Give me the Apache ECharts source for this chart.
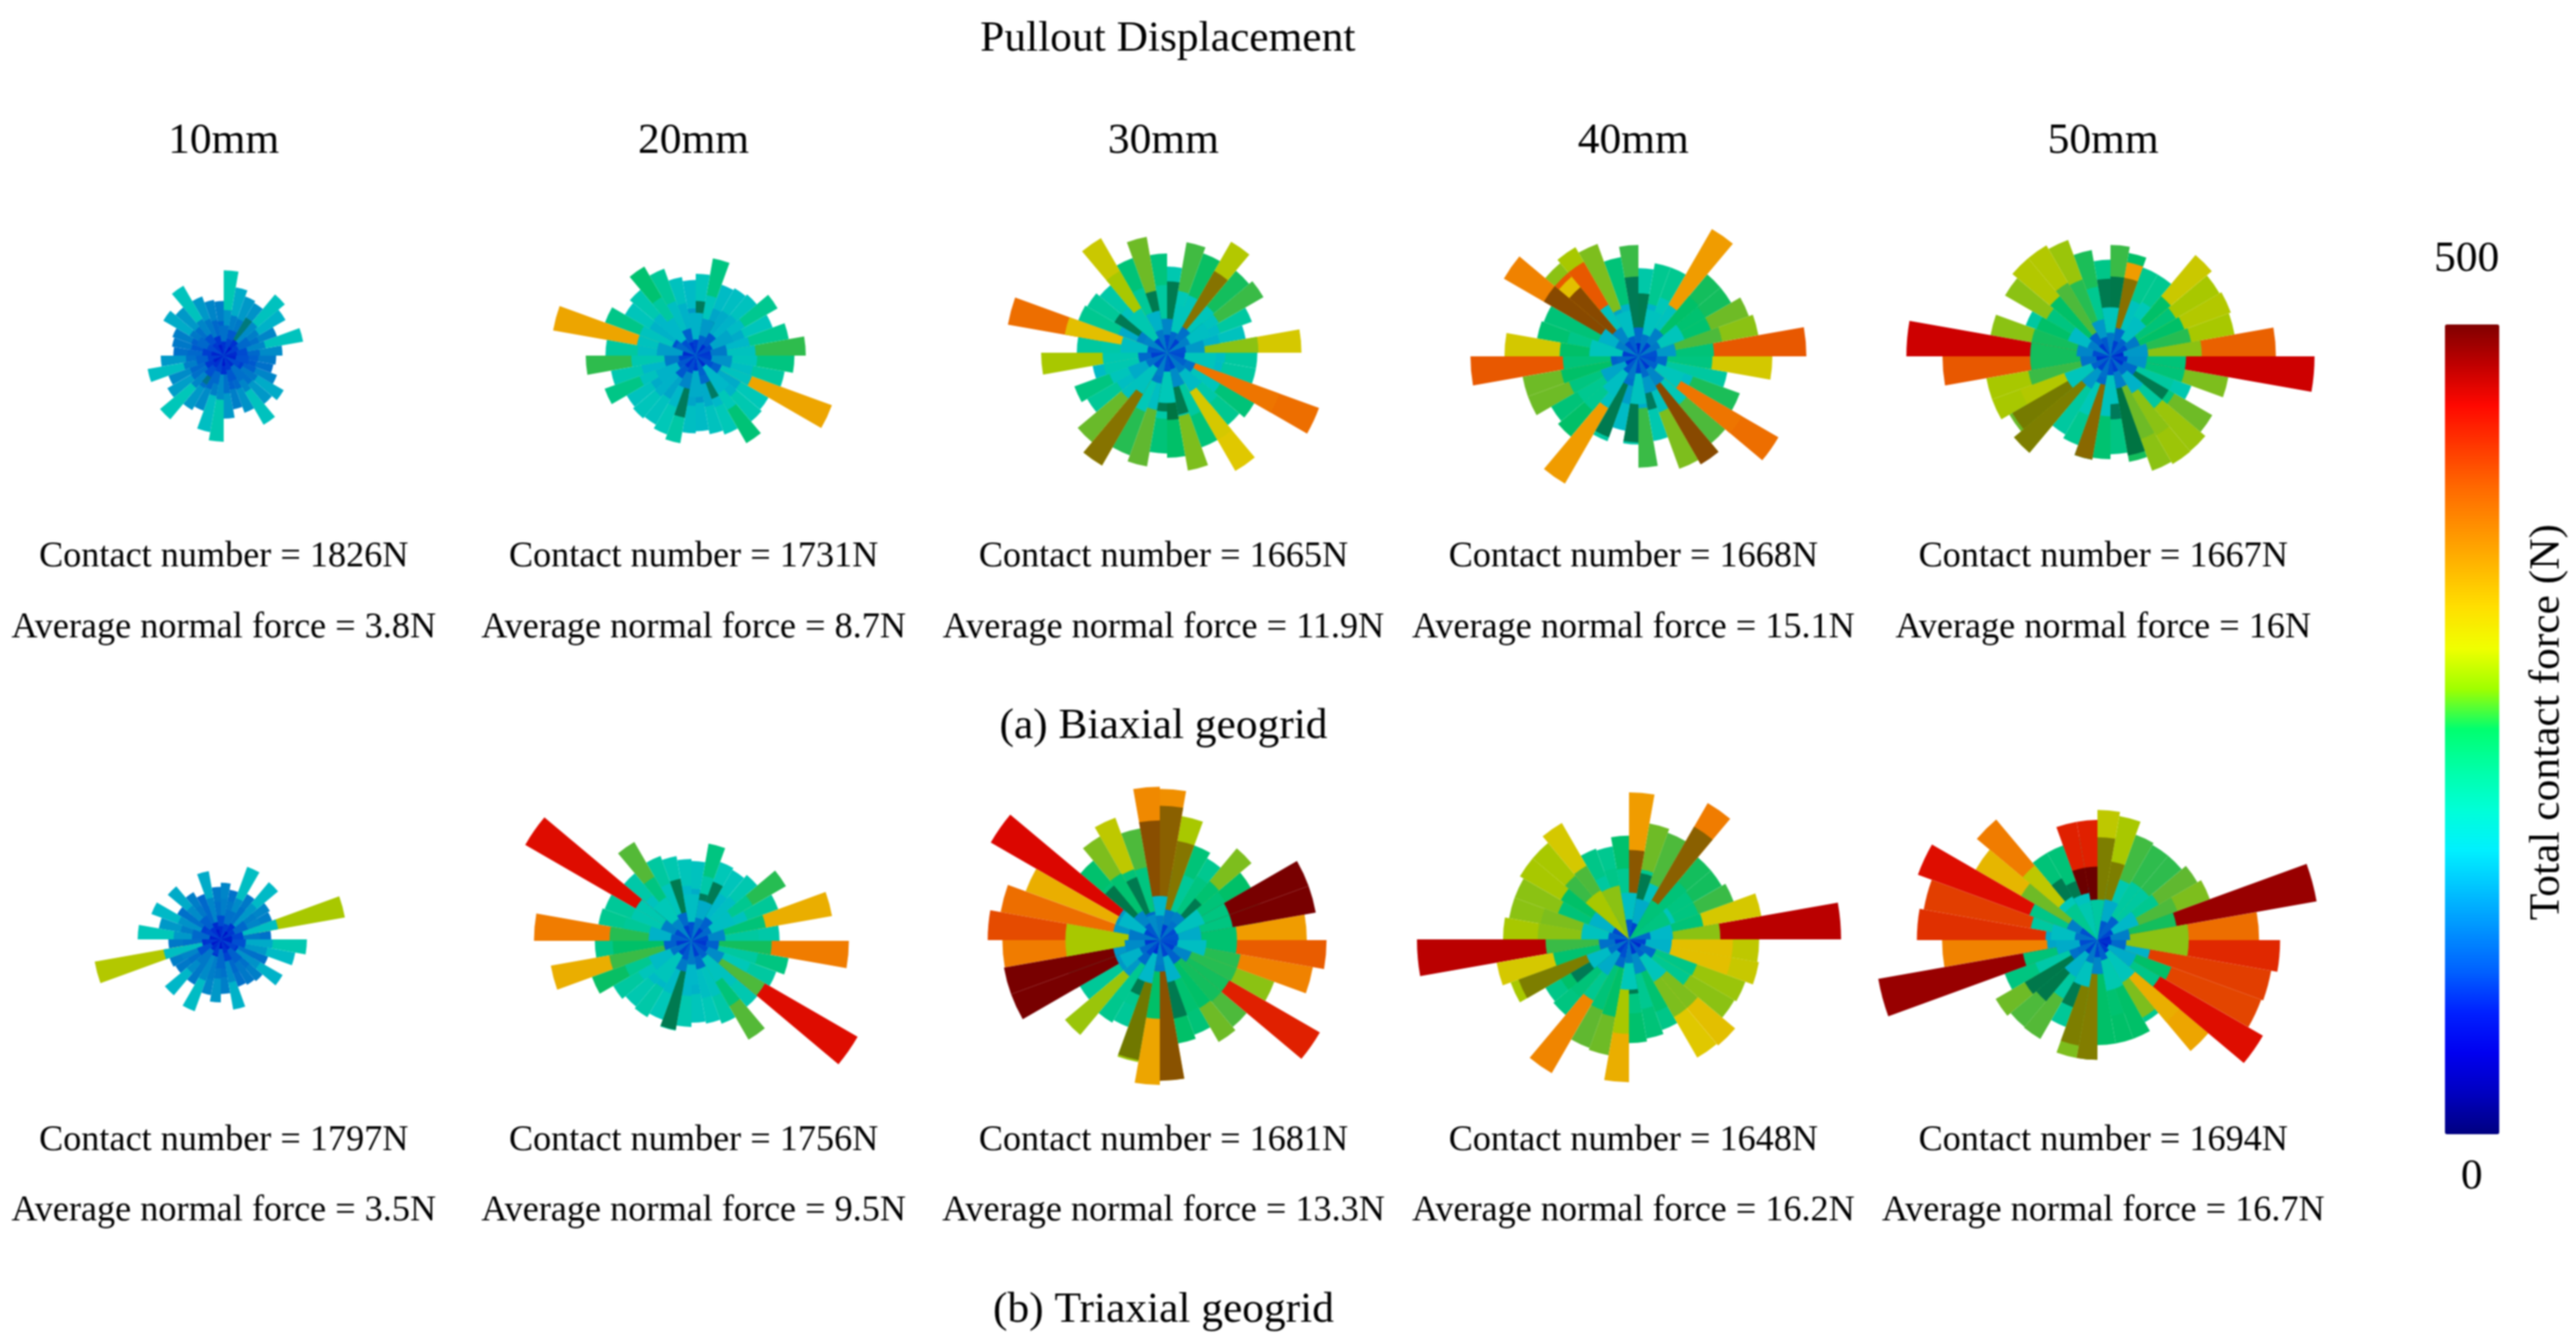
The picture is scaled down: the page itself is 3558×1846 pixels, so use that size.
<!DOCTYPE html>
<html>
<head>
<meta charset="utf-8">
<title>Pullout Displacement</title>
<script src="https://cdn.jsdelivr.net/npm/echarts@6/dist/echarts.min.js"></script>
<style>
  html, body { margin: 0; background: #fff; }
  #chart { width: 3558px; height: 1846px; filter: blur(1px); }
</style>
</head>
<body>
<div id="chart"></div>
<script>
// column and row labels
const displacements = ['10mm', '20mm', '30mm', '40mm', '50mm']
const contactA = [1826, 1731, 1665, 1668, 1667]
const forceA = ['3.8', '8.7', '11.9', '15.1', '16']
const contactB = [1797, 1756, 1681, 1648, 1694]
const forceB = ['3.5', '9.5', '13.3', '16.2', '16.7']

// total contact force (N) per direction.
// *Out and *Mid have 36 bins of 10 deg, *Ring and *Core have 18 bins of 20 deg, counted ccw from +x.
const a1Out = [140,192,135,170,190,145,150,165,203,130,135,150,192,150,166,130,125,120,150,184,140,155,198,150,140,185,205,150,130,145,190,150,165,135,120,125]
const a1Mid = [115,135,120,130,140,120,125,130,145,110,115,125,135,120,125,110,105,115,120,130,115,120,135,120,115,130,140,120,110,115,135,120,125,110,105,110]
const a1Ring = [95,115,75,105,120,80,100,115,85,110,80,100,115,75,105,120,85,100]
const a1Core = [70,85,55,90,75,60,80,95,65,85,60,75,90,55,80,70,95,65]

const a2Out = [262,225,195,225,190,185,180,235,195,180,190,220,245,205,195,230,345,215,262,205,231,190,195,190,200,212,185,180,190,200,241,205,200,345,215,235]
const a2Mid = [190,175,165,180,170,165,160,195,165,150,170,185,215,175,170,190,190,185,205,175,190,165,170,160,175,180,160,150,165,175,200,170,165,190,185,195]
const a2Ring = [125,160,105,150,170,110,175,100,155,125,170,105,135,165,115,175,110,145]
const a2Core = [80,95,70,110,85,75,100,115,70,90,105,75,95,80,110,70,100,85]

const a3Out = [320,190,215,265,255,305,252,267,205,236,280,240,315,210,220,225,385,215,300,180,235,220,278,310,260,275,240,250,285,240,325,225,240,385,215,215]
const a3Mid = [290,170,180,190,195,170,195,200,190,215,175,220,300,190,190,165,330,210,205,205,195,185,190,195,200,185,210,195,205,215,320,210,195,380,180,185]
const a3Ring = [150,185,120,195,135,170,205,130,185,115,165,190,125,200,140,180,120,195]
const a3Core = [100,130,85,115,95,125,90,135,105,85,120,95,130,100,90,125,110,95]

const a4Out = [400,290,280,255,255,350,225,225,210,265,240,285,300,290,370,240,245,319,400,280,280,240,250,350,215,180,210,265,205,285,295,270,385,257,215,319]
const a4Mid = [240,270,245,245,250,190,200,170,180,165,170,160,190,330,200,240,230,250,240,250,235,225,225,190,195,155,165,165,170,190,190,200,380,185,215,235]
const a4Ring = [150,195,130,190,115,185,135,170,195,110,160,185,120,190,150,135,195,115]
const a4Core = [100,125,85,120,70,110,95,130,85,115,75,105,125,90,115,80,110,95]

const a5Out = [394,300,305,300,315,225,225,250,265,230,257,295,305,305,290,215,290,486,400,300,300,278,300,215,225,250,245,233,255,290,296,295,280,205,285,486]
const a5Mid = [290,260,250,240,250,200,190,200,225,190,225,260,270,250,235,250,255,255,255,265,305,310,200,215,200,195,190,190,205,280,290,215,235,215,240,240]
const a5Ring = [150,125,185,115,195,150,110,180,135,120,195,150,115,190,130,170,115,145]
const a5Core = [70,95,110,85,125,105,80,130,95,75,110,90,120,100,85,115,75,90]

const b1Out = [120,300,130,135,178,125,184,120,135,125,165,115,130,165,120,176,150,198,125,305,130,125,174,125,182,135,150,130,170,120,125,130,170,120,180,205]
const b1Mid = [125,185,135,130,150,120,140,125,130,120,135,115,125,140,120,145,130,150,120,185,135,120,140,125,140,130,125,120,140,115,125,120,145,120,150,165]
const b1Ring = [90,115,75,120,95,70,110,85,115,75,100,125,70,115,90,110,75,100]
const b1Core = [60,80,50,85,70,55,75,90,60,80,55,70,85,50,75,65,90,60]

const b2Out = [210,340,220,260,205,195,200,235,190,195,205,215,272,210,457,220,225,375,230,340,252,215,205,210,200,217,205,195,200,210,272,205,457,215,235,375]
const b2Mid = [215,240,190,225,185,175,180,210,165,175,180,195,235,190,205,205,220,260,250,265,225,195,180,175,180,195,175,170,185,190,240,190,270,200,215,255]
const b2Ring = [135,185,110,165,185,115,200,130,170,110,180,195,125,175,115,190,140,110]
const b2Core = [90,115,80,125,100,85,135,95,110,80,120,90,105,125,85,110,95,80]

const b3Out = [350,250,255,250,285,225,240,300,360,365,270,310,285,247,465,340,385,410,375,230,230,220,295,227,220,295,345,335,250,240,280,270,440,290,370,397]
const b3Mid = [245,235,235,240,245,235,220,220,230,225,235,240,245,240,150,150,150,300,300,150,150,150,150,225,225,240,250,195,250,245,250,255,255,260,260,245]
const b3Ring = [165,190,130,125,175,115,135,175,125,140,170,115,175,125,170,110,135,185]
const b3Core = [100,95,120,85,130,140,105,90,125,80,115,95,75,130,90,110,85,95]

const b4Out = [505,320,265,255,255,375,270,280,350,247,225,230,320,300,300,290,290,300,505,320,300,230,235,368,275,280,340,247,240,230,325,330,290,295,314,310]
const b4Mid = [290,240,235,235,240,215,190,225,180,225,230,215,270,265,250,240,285,290,265,245,255,250,240,225,240,250,300,235,225,245,285,285,225,230,330,330]
const b4Ring = [175,195,125,165,185,115,135,170,190,120,180,165,115,200,140,195,115,170]
const b4Core = [115,235,240,90,105,290,300,95,110,75,120,85,100,125,80,110,70,90]

const b5Out = [385,530,285,275,262,262,267,300,310,250,245,240,240,375,335,455,420,430,370,530,235,280,270,272,220,285,285,250,250,250,226,345,455,415,420,435]
const b5Mid = [290,255,270,225,215,215,205,190,180,170,175,200,190,310,280,230,215,165,160,240,210,235,235,215,205,290,245,250,245,250,285,340,230,250,170,290]
const b5Ring = [130,175,110,165,125,190,200,130,185,165,120,170,190,135,205,195,165,115]
const b5Core = [70,90,110,105,215,205,225,100,120,95,115,85,125,90,110,80,65,75]

// steep, tall bars that project short: [bin, force]
const a4High = [[12, 400], [13, 400]]
const a5High = [[7, 350]]
const b3High = [[1, 580], [2, 580], [19, 580], [20, 580]]
const b5High = [[9, 440], [10, 440]]

// shaded side faces: [bin, reach in N, force]
const a1Side = [[5, 105, 185], [23, 80, 170]]
const a2Side = [[6, 90, 210], [25, 150, 215], [8, 130, 215], [29, 110, 205]]
const a3Side = [[5, 225, 345], [23, 310, 345], [14, 145, 220], [27, 160, 240], [8, 170, 225], [28, 150, 225], [26, 140, 225], [10, 150, 225], [3, 110, 225]]
const a4Side = [[13, 215, 395], [14, 260, 395], [30, 297, 395], [8, 150, 225], [26, 205, 225], [24, 205, 225], [28, 130, 210], [9, 190, 220]]
const a5Side = [[7, 190, 350], [21, 270, 310], [22, 300, 320], [25, 250, 360], [9, 185, 225], [8, 190, 230], [28, 240, 240], [27, 150, 215], [32, 160, 225]]
const b2Side = [[6, 150, 220], [7, 115, 215], [25, 215, 225], [10, 150, 225], [13, 115, 215]]
const b3Side = [[9, 285, 390], [8, 320, 370], [7, 240, 340], [27, 335, 385], [25, 290, 300], [13, 170, 230], [28, 190, 225], [4, 130, 225], [24, 140, 225], [11, 160, 225]]
const b4Side = [[8, 213, 380], [5, 310, 370], [20, 280, 320], [7, 160, 225], [27, 130, 225], [21, 160, 220]]
const b5Side = [[9, 175, 480], [10, 175, 480], [8, 245, 320], [7, 190, 320], [26, 285, 330], [25, 255, 320], [11, 150, 225], [12, 170, 225], [22, 190, 230], [21, 200, 230], [24, 170, 225]]

// legend colours, bottom to top
const jet = ['#000080','#0000c0','#0000f0','#0020ff','#0060ff','#0090ff','#00c0ff','#00f0ff','#00ffd8','#00ffa8','#00ff70','#a0ff00','#f0ff00','#ffe000','#ffb800','#ff9000','#ff6800','#ff3800','#ff0800','#c00000','#800000']
// the bars are lit, so they come out duller than the legend
const litJet = ['#000080','#0000a8','#0010c8','#0030d0','#0050d0','#0078c8','#0098c8','#00b8c8','#00c8b8','#00c890','#00c068','#60b830','#a8c800','#e0c800','#f09c00','#f07c00','#e85800','#e03800','#e01000','#d80000','#c00000','#a00000','#780000']
const sideJet = ['#000050','#000070','#000090','#001098','#002aa0','#0040a0','#005c98','#007a88','#007a68','#007a50','#007038','#507808','#707800','#808000','#887000','#8a5c00','#884400','#802400','#780800','#700000','#580000']

const panels = [
  { c: [309, 491], out: a1Out, mid: a1Mid, ring: a1Ring, core: a1Core, high: [], side: a1Side },
  { c: [961, 491], out: a2Out, mid: a2Mid, ring: a2Ring, core: a2Core, high: [], side: a2Side },
  { c: [1612, 487], out: a3Out, mid: a3Mid, ring: a3Ring, core: a3Core, high: [], side: a3Side },
  { c: [2263, 492], out: a4Out, mid: a4Mid, ring: a4Ring, core: a4Core, high: a4High, side: a4Side },
  { c: [2915, 492], out: a5Out, mid: a5Mid, ring: a5Ring, core: a5Core, high: a5High, side: a5Side },
  { c: [305, 1297], out: b1Out, mid: b1Mid, ring: b1Ring, core: b1Core, high: [], side: [] },
  { c: [955, 1299], out: b2Out, mid: b2Mid, ring: b2Ring, core: b2Core, high: [], side: b2Side },
  { c: [1602, 1298], out: b3Out, mid: b3Mid, ring: b3Ring, core: b3Core, high: b3High, side: b3Side },
  { c: [2250, 1297], out: b4Out, mid: b4Mid, ring: b4Ring, core: b4Core, high: [], side: b4Side },
  { c: [2897, 1298], out: b5Out, mid: b5Mid, ring: b5Ring, core: b5Core, high: b5High, side: b5Side }
]

const RADIUS_PX = 348 // 600 N on the outermost ring
const range = n => Array.from({ length: n }, (_, i) => i)
const rows = list => list.map((v, i) => [i, v])

const polar = []
const angleAxis = []
const radiusAxis = []
const series = []
const litSeries = []
const sideSeries = []

const addLayer = (panel, scale, bins, data, side) => {
  const index = polar.length
  polar.push({ center: panel.c, radius: RADIUS_PX * scale })
  angleAxis.push({ polarIndex: index, type: 'category', data: range(bins), startAngle: 0, clockwise: false, show: false, boundaryGap: true })
  radiusAxis.push({ polarIndex: index, type: 'value', min: 0, max: 600, show: false })
  ;(side ? sideSeries : litSeries).push(series.length)
  series.push({
    type: 'bar',
    coordinateSystem: 'polar',
    polarIndex: index,
    barCategoryGap: '0%',
    barWidth: '100%',
    silent: true,
    encode: { angle: 0, radius: 1 },
    data: data
  })
}

panels.forEach(p => {
  addLayer(p, 1, 36, rows(p.out))
  if (p.high.length) addLayer(p, 0.65, 36, p.high)
  addLayer(p, 0.75, 36, rows(p.mid))
  if (p.side.length) addLayer(p, 1, 36, p.side, true)
  addLayer(p, 0.6, 18, rows(p.ring))
  addLayer(p, 0.45, 18, rows(p.core))
})

const SERIF = '"Liberation Serif", "Times New Roman", serif'
const label = (text, x, y, rotation) => ({
  type: 'text',
  x: x,
  y: y,
  rotation: rotation || 0,
  silent: true,
  style: {
    text: text,
    fill: '#000',
    align: 'center',
    verticalAlign: 'middle',
    font: (text.length > 16 && text.indexOf('=') > 0 ? 50 : 60) + 'px ' + SERIF
  }
})

const columnX = [309, 958, 1607, 2256, 2905]
const texts = [
  label('Pullout Displacement', 1613, 54),
  label('(a) Biaxial geogrid', 1607, 1003),
  label('(b) Triaxial geogrid', 1607, 1809),
  label('500', 3407, 358),
  label('0', 3414, 1625),
  label('Total contact force (N)', 3518, 997, Math.PI / 2)
]
columnX.forEach((x, i) => {
  texts.push(label(displacements[i], x, 195))
  texts.push(label('Contact number = ' + contactA[i] + 'N', x, 769))
  texts.push(label('Average normal force = ' + forceA[i] + 'N', x, 867))
  texts.push(label('Contact number = ' + contactB[i] + 'N', x, 1575))
  texts.push(label('Average normal force = ' + forceB[i] + 'N', x, 1672))
})

const chart = echarts.init(document.getElementById('chart'))
chart.setOption({
  animation: false,
  backgroundColor: '#fff',
  polar: polar,
  angleAxis: angleAxis,
  radiusAxis: radiusAxis,
  visualMap: [
    { type: 'continuous', show: false, min: 0, max: 550, dimension: 1, seriesIndex: litSeries, inRange: { color: litJet } },
    { type: 'continuous', show: false, min: 0, max: 500, dimension: 2, seriesIndex: sideSeries, inRange: { color: sideJet } },
    {
      type: 'continuous',
      min: 0,
      max: 500,
      left: 3377,
      top: 448,
      padding: 0,
      itemWidth: 75,
      itemHeight: 1118,
      calculable: false,
      hoverLink: false,
      text: null,
      seriesIndex: [],
      inRange: { color: jet }
    }
  ],
  series: series,
  graphic: { elements: texts }
})
</script>
</body>
</html>
